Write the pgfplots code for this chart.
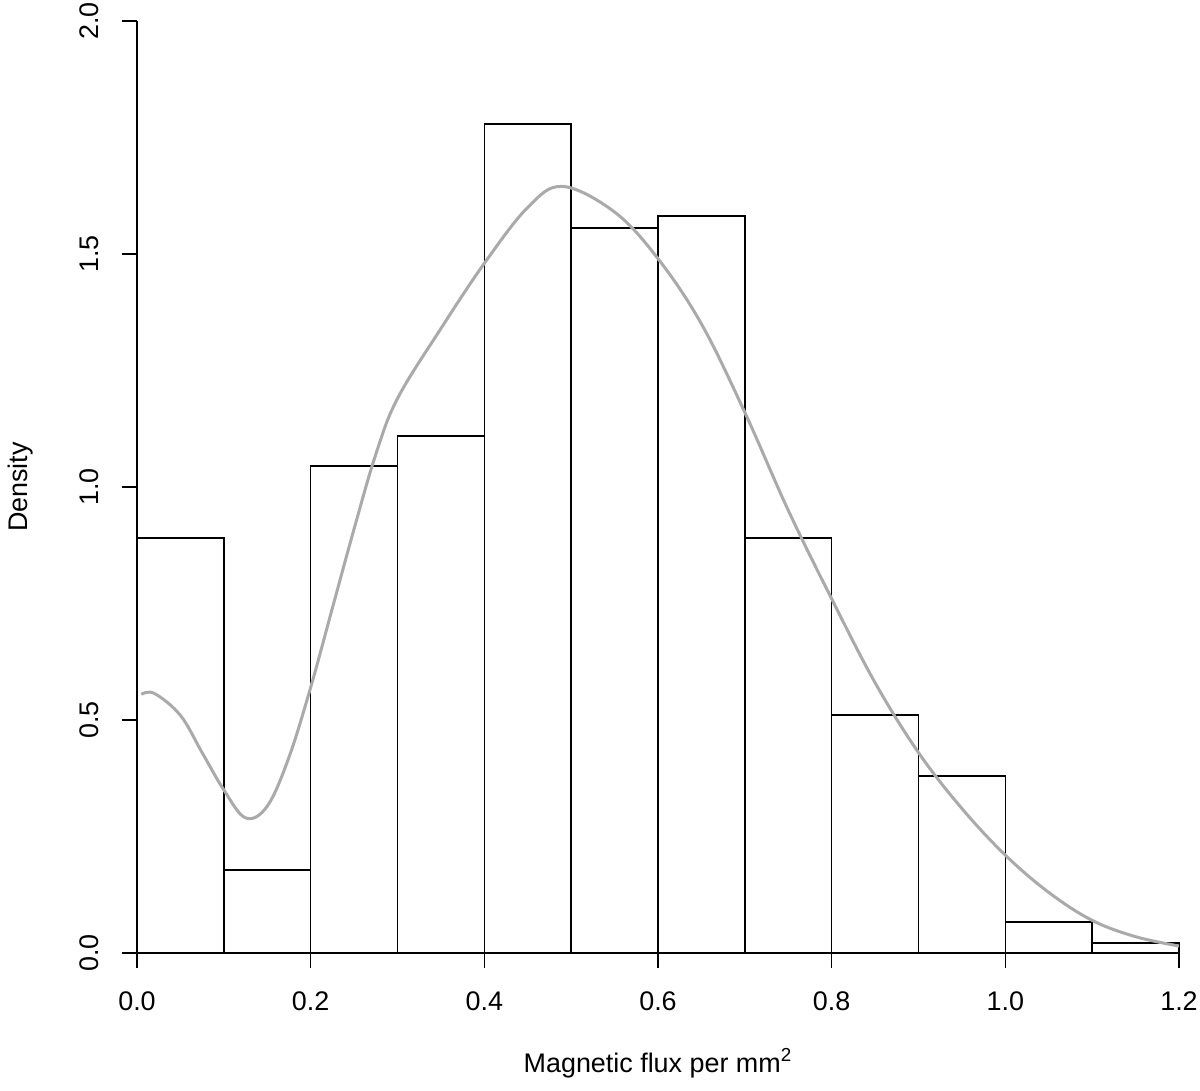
\documentclass[border=0pt]{standalone}
\usepackage{pgfplots}
\pgfplotsset{compat=1.18}
\usepackage{fontspec}
\setmainfont{Liberation Sans}
\definecolor{kd}{RGB}{170,170,170}
\begin{document}
\fontsize{13.5}{16}\selectfont
\begin{tikzpicture}
\begin{axis}[name=ax, scale only axis, width=521bp, height=466bp,
  xmin=0, xmax=1.2, ymin=0, ymax=2,
  axis lines=left, axis line style={-, line width=0.8bp},
  xtick={0,0.2,...,1.2}, ytick={0,0.5,...,2},
  tick align=outside, major tick length=7.5bp, tick style={line width=0.8bp, black},
  /pgf/number format/assume math mode=true,
  xticklabel style={/pgf/number format/.cd, fixed, fixed zerofill, precision=1},
  yticklabel style={rotate=90, anchor=south, /pgf/number format/.cd, fixed, fixed zerofill, precision=1},
  xticklabel shift=7bp, yticklabel shift=7bp,
  xlabel={Magnetic flux per mm\textsuperscript{2}}, ylabel={Density},
  xlabel style={yshift=-10bp}, ylabel style={yshift=14bp},
  clip=false]
\addplot[ybar interval, fill=white, draw=black, line width=0.8bp] coordinates {
(0.0,0.89)(0.1,0.178)(0.2,1.045)(0.3,1.11)(0.4,1.779)(0.5,1.556)(0.6,1.582)
(0.7,0.89)(0.8,0.511)(0.9,0.38)(1.0,0.0665)(1.1,0.0215)(1.2,0.0215)};
\addplot[kd, line width=1.5bp, smooth, tension=0.6] coordinates {
(0.005,0.555)(0.02,0.557)(0.05,0.51)(0.075,0.43)(0.1,0.35)(0.125,0.29)(0.15,0.315)(0.175,0.42)(0.2,0.57)
(0.225,0.74)(0.25,0.91)(0.275,1.07)(0.3,1.19)(0.35,1.34)(0.4,1.48)(0.45,1.60)(0.49,1.645)
(0.55,1.59)(0.6,1.49)(0.65,1.35)(0.7,1.16)(0.75,0.95)(0.8,0.76)(0.85,0.58)(0.9,0.43)
(0.95,0.31)(1.0,0.21)(1.05,0.13)(1.1,0.07)(1.15,0.035)(1.2,0.015)};
\end{axis}
\pgfresetboundingbox
\path[use as bounding box] (ax.south west) ++(-68.5bp,-69bp) rectangle ++(600bp,545.5bp);
\end{tikzpicture}
\end{document}
